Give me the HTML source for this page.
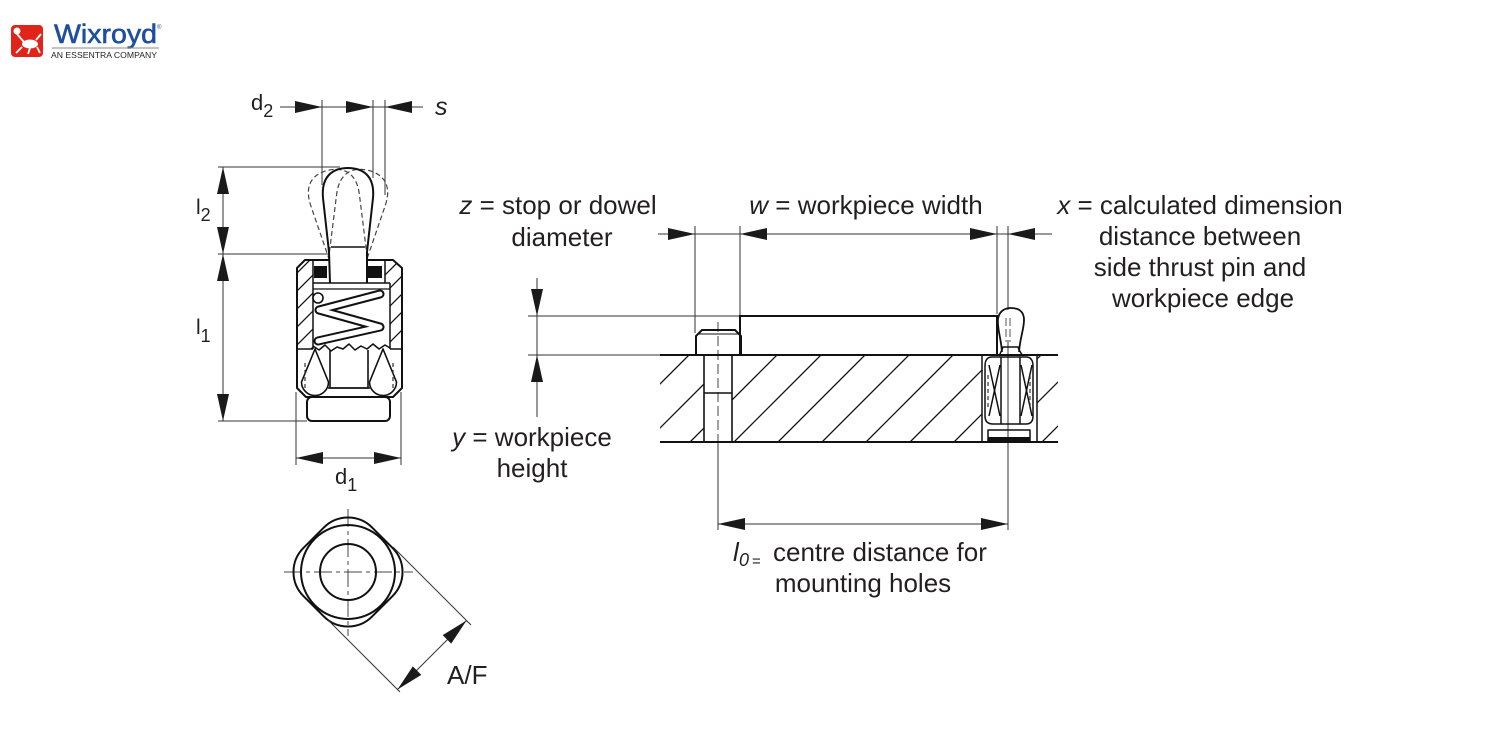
<!DOCTYPE html>
<html><head><meta charset="utf-8"><style>
html,body{margin:0;padding:0;background:#fff;}
svg{display:block;}
text{font-family:"Liberation Sans",Arial,sans-serif;fill:#231f20;}
</style></head><body>
<svg width="1500" height="750" viewBox="0 0 1500 750" xmlns="http://www.w3.org/2000/svg">
<defs>
<clipPath id="plateClip"><path clip-rule="evenodd" d="M660,356 H1058 V441 H660 Z M704,356 H732 V441 H704 Z M982,356 H1037 V441 H982 Z"/></clipPath>
<clipPath id="lwall"><polygon points="297,268 305,260 313,260 313,349 297,349"/></clipPath>
<clipPath id="rwall"><polygon points="385,260 393,260 402,268 402,349 390,349 390,283 385,283"/></clipPath>
</defs>
<rect width="1500" height="750" fill="#fff"/>

<!-- LOGO -->
<rect x="11" y="25" width="32" height="32" rx="4" fill="#e2231a"/>
<circle cx="17" cy="31" r="3.5" fill="#fff"/>
<ellipse cx="30" cy="44" rx="8" ry="4.5" fill="#fff"/>
<path d="M17,34 L24,42 M22,47 L16,53 M30,48 L28,54 M37,47 L40,53 M36,40 L41,34" stroke="#fff" stroke-width="1.8" fill="none"/>
<text x="54" y="43" font-size="27" textLength="103" lengthAdjust="spacingAndGlyphs" style="fill:#1d4f9e;stroke:#1d4f9e;stroke-width:0.6">Wixroyd</text>
<text x="157" y="29" font-size="6" style="fill:#1d4f9e">®</text>
<line x1="52" y1="48" x2="159" y2="48" stroke="#888" stroke-width="1"/>
<text x="51" y="58" font-size="8.5" textLength="106" lengthAdjust="spacingAndGlyphs">AN ESSENTRA COMPANY</text>

<!-- ========== LEFT SIDE VIEW ========== -->
<g stroke="#333" stroke-width="1" fill="none">
  <line x1="280" y1="107" x2="423" y2="107"/>
  <line x1="322" y1="100" x2="322" y2="185"/>
  <line x1="373" y1="100" x2="373" y2="178"/>
  <line x1="385" y1="100" x2="385" y2="195"/>
  <line x1="223" y1="167" x2="223" y2="421"/>
  <line x1="218" y1="167" x2="340" y2="167"/>
  <line x1="218" y1="254" x2="328" y2="254"/>
  <line x1="218" y1="421" x2="307" y2="421"/>
  <line x1="296" y1="392" x2="296" y2="465"/>
  <line x1="401" y1="392" x2="401" y2="465"/>
  <line x1="296" y1="458" x2="401" y2="458"/>
</g>
<g fill="#1a1a1a">
  <polygon points="322,107 295,101 295,113"/>
  <polygon points="373,107 346,101 346,113"/>
  <polygon points="385,107 412,101 412,113"/>
  <polygon points="223,167 217,194 229,194"/>
  <polygon points="223,254 217,227 229,227"/>
  <polygon points="223,254 217,281 229,281"/>
  <polygon points="223,421 217,394 229,394"/>
  <polygon points="296,458 323,452 323,464"/>
  <polygon points="401,458 374,452 374,464"/>
</g>

<!-- dashed tilted handles -->
<g stroke="#444" stroke-width="1.2" fill="none" stroke-dasharray="5 3">
  <path transform="rotate(-13 348 256)" d="M329,256 L323,198 C321,176 333,168 348,168 C363,168 375,176 373,198 L367,256"/>
  <path transform="rotate(13 348 256)" d="M329,256 L323,198 C321,176 333,168 348,168 C363,168 375,176 373,198 L367,256"/>
</g>
<g stroke="#111" stroke-width="2" fill="none">
  <path d="M330,283 L329,252 L323,198 C321,176 333,168 348,168 C363,168 375,176 373,198 L367,252 L367,283"/>
  <line x1="331" y1="247" x2="365" y2="247" stroke-width="1.5"/>
</g>

<!-- hatching walls -->
<g stroke="#111" stroke-width="1.3" clip-path="url(#lwall)">
  <line x1="250" y1="320" x2="350" y2="220"/>
  <line x1="250" y1="338" x2="350" y2="238"/>
  <line x1="250" y1="356" x2="350" y2="256"/>
  <line x1="250" y1="374" x2="350" y2="274"/>
  <line x1="250" y1="392" x2="350" y2="292"/>
  <line x1="250" y1="410" x2="350" y2="310"/>
  <line x1="250" y1="302" x2="350" y2="202"/>
</g>
<g stroke="#111" stroke-width="1.3" clip-path="url(#rwall)">
  <line x1="350" y1="310" x2="450" y2="210"/>
  <line x1="350" y1="328" x2="450" y2="228"/>
  <line x1="350" y1="346" x2="450" y2="246"/>
  <line x1="350" y1="364" x2="450" y2="264"/>
  <line x1="350" y1="382" x2="450" y2="282"/>
  <line x1="350" y1="400" x2="450" y2="300"/>
  <line x1="350" y1="418" x2="450" y2="318"/>
</g>

<!-- body -->
<g stroke="#111" stroke-width="2" fill="none" stroke-linejoin="round">
  <path d="M330,260 L305,260 L297,268 L297,388 L306,397 L393,397 L402,388 L402,268 L393,260 L367,260"/>
  <rect x="307" y="397" width="83" height="24" rx="5"/>
  <line x1="313" y1="260" x2="313" y2="349" stroke-width="1.5"/>
  <line x1="390" y1="283" x2="390" y2="349" stroke-width="1.5"/>
  <line x1="385" y1="260" x2="385" y2="283" stroke-width="1.5"/>
  <line x1="313" y1="283" x2="390" y2="283" stroke-width="1.5"/>
  <line x1="313" y1="289" x2="390" y2="289" stroke-width="1.2"/>
  <line x1="297" y1="349" x2="313" y2="349" stroke-width="1.5"/>
  <line x1="390" y1="349" x2="402" y2="349" stroke-width="1.5"/>
  <polyline stroke-width="1.5" points="313,346 319,350 325,345 331,351 337,347 343,349 349,344 355,350 361,346 367,349 373,344 379,349 385,345 390,348"/>
  <path stroke-width="1.6" d="M315,349 L301.5,382 A13.5,13.5 0 0 0 328.5,382 Z"/>
  <path stroke-width="1.6" d="M383,349 L369.5,382 A13.5,13.5 0 0 0 396.5,382 Z"/>
  <path stroke-width="1.6" d="M330,350 L330,388 L368,388 L368,350"/>
  <line x1="328" y1="388" x2="370" y2="388" stroke-width="1.5"/>
</g>
<rect x="314" y="266" width="13" height="12" fill="#111"/>
<rect x="368" y="266" width="14" height="12" fill="#111"/>
<g stroke="#333" stroke-width="1.2" stroke-dasharray="4 3">
  <line x1="305" y1="363" x2="305" y2="391"/>
  <line x1="393" y1="363" x2="393" y2="391"/>
</g>
<polyline points="380,294 319,310 380,327 318,341" fill="none" stroke="#111" stroke-width="9" stroke-linejoin="round" stroke-linecap="round"/>
<polyline points="380,294 319,310 380,327 318,341" fill="none" stroke="#fff" stroke-width="5" stroke-linejoin="round" stroke-linecap="round"/>
<circle cx="318" cy="298" r="5" fill="#fff" stroke="#111" stroke-width="1.6"/>

<!-- labels left -->
<text x="251" y="110" font-size="22">d<tspan font-size="18" dy="7">2</tspan></text>
<text x="435" y="115" font-size="25" font-style="italic">s</text>
<text x="196" y="214" font-size="21">l<tspan font-size="18" dy="7">2</tspan></text>
<text x="196" y="334" font-size="21">l<tspan font-size="18" dy="8">1</tspan></text>
<text x="335" y="484" font-size="22">d<tspan font-size="18" dy="7">1</tspan></text>

<!-- ========== BOTTOM VIEW ========== -->
<g stroke="#444" stroke-width="1" stroke-dasharray="18 4 4 4" fill="none">
  <line x1="284" y1="572" x2="413" y2="572"/>
  <line x1="348" y1="509" x2="348" y2="636"/>
</g>
<g stroke="#111" stroke-width="2" fill="none">
  <circle cx="348" cy="572" r="28"/>
  <circle cx="348" cy="572" r="47"/>
  <rect x="299.5" y="523.5" width="97" height="97" rx="34" transform="rotate(45 348 572)"/>
</g>
<g stroke="#333" stroke-width="1" fill="none">
  <line x1="393" y1="547" x2="471" y2="625"/>
  <line x1="328" y1="620" x2="400" y2="692"/>
  <line x1="397.5" y1="689.5" x2="466.5" y2="620.5"/>
</g>
<g fill="#1a1a1a">
  <polygon points="466.5,620.5 451.2,643.6 442.7,635.1"/>
  <polygon points="397.5,689.5 412.8,666.4 421.3,674.9"/>
</g>
<text x="447" y="684" font-size="26">A/F</text>

<!-- ========== RIGHT VIEW ========== -->
<g stroke="#111" stroke-width="1.3" clip-path="url(#plateClip)">
  <line x1="558" y1="442" x2="645" y2="355"/>
  <line x1="602" y1="442" x2="689" y2="355"/>
  <line x1="646" y1="442" x2="733" y2="355"/>
  <line x1="690" y1="442" x2="777" y2="355"/>
  <line x1="734" y1="442" x2="821" y2="355"/>
  <line x1="778" y1="442" x2="865" y2="355"/>
  <line x1="822" y1="442" x2="909" y2="355"/>
  <line x1="866" y1="442" x2="953" y2="355"/>
  <line x1="910" y1="442" x2="997" y2="355"/>
  <line x1="954" y1="442" x2="1041" y2="355"/>
  <line x1="998" y1="442" x2="1085" y2="355"/>
  <line x1="1042" y1="442" x2="1129" y2="355"/>
</g>
<g stroke="#333" stroke-width="1" fill="none">
  <line x1="658" y1="234" x2="1052" y2="234"/>
  <line x1="695" y1="226" x2="695" y2="333"/>
  <line x1="740" y1="226" x2="740" y2="317"/>
  <line x1="997" y1="226" x2="997" y2="314"/>
  <line x1="1008" y1="226" x2="1008" y2="310"/>
  <line x1="1008" y1="340" x2="1008" y2="530"/>
  <line x1="537" y1="278" x2="537" y2="417"/>
  <line x1="528" y1="316" x2="740" y2="316"/>
  <line x1="528" y1="355" x2="662" y2="355"/>
  <line x1="718" y1="442" x2="718" y2="530"/>
  <line x1="718" y1="524" x2="1008" y2="524"/>
</g>
<line x1="718" y1="322" x2="718" y2="442" stroke="#444" stroke-width="1" stroke-dasharray="10 4"/>
<g stroke="#555" stroke-width="1" stroke-dasharray="8 3">
  <line x1="1006" y1="318" x2="1006" y2="342"/>
  <line x1="1010" y1="318" x2="1010" y2="342"/>
</g>
<g fill="#1a1a1a">
  <polygon points="695,234 668,228 668,240"/>
  <polygon points="740,234 767,228 767,240"/>
  <polygon points="997,234 970,228 970,240"/>
  <polygon points="1008,234 1035,228 1035,240"/>
  <polygon points="537,316 531,289 543,289"/>
  <polygon points="537,355 531,382 543,382"/>
  <polygon points="718,524 745,518 745,530"/>
  <polygon points="1008,524 981,518 981,530"/>
</g>
<g stroke="#111" stroke-width="2" fill="none">
  <line x1="660" y1="355" x2="1058" y2="355"/>
  <line x1="660" y1="442" x2="1058" y2="442"/>
  <path d="M740,355 L740,316 L997,316 L997,355"/>
  <path d="M696,355 L696,336 L702,330 L735,330 L741,336 L741,355"/>
  <line x1="704" y1="355" x2="704" y2="442" stroke-width="1.6"/>
  <line x1="732" y1="355" x2="732" y2="442" stroke-width="1.6"/>
  <line x1="704" y1="393" x2="732" y2="393" stroke-width="1.5"/>
</g>
<line x1="699" y1="334" x2="738" y2="334" stroke="#111" stroke-width="1"/>
<g stroke="#111" stroke-width="1.5" fill="none" stroke-linejoin="round">
  <line x1="982" y1="355" x2="982" y2="442"/>
  <line x1="1037" y1="355" x2="1037" y2="442"/>
  <path d="M1002,352 C1001,338 997,328 998,319 C999,311 1005,308 1011,308 C1018,308 1024,311 1024,320 C1024,329 1020,338 1019,352" stroke-width="1.8"/>
  <path d="M999,356 C1001,352 1002,350 1003,347 L1018,347 C1019,350 1020,352 1023,356"/>
  <path d="M1001,357 L992,357 Q985,357 985,366 L985,416 Q985,424 993,424 L1001,424 Z"/>
  <path d="M1020,357 L1026,357 Q1033,357 1033,366 L1033,416 Q1033,424 1026,424 L1020,424 Z"/>
  <line x1="1001" y1="357" x2="1020" y2="357"/>
  <line x1="1001" y1="424" x2="1020" y2="424"/>
  <line x1="989" y1="365" x2="1000" y2="416"/>
  <line x1="1000" y1="365" x2="989" y2="416"/>
  <line x1="1021" y1="365" x2="1032" y2="416"/>
  <line x1="1032" y1="365" x2="1021" y2="416"/>
  <path d="M988,442 L988,430 L1030,430 L1030,442"/>
</g>
<rect x="988" y="437" width="42" height="5" fill="#111"/>
<g stroke="#333" stroke-width="1.2" stroke-dasharray="4 3">
  <line x1="988" y1="375" x2="988" y2="410"/>
  <line x1="1030" y1="375" x2="1030" y2="410"/>
</g>

<!-- text labels -->
<g font-size="26">
  <text x="558" y="214" text-anchor="middle"><tspan font-style="italic">z</tspan> = stop or dowel</text>
  <text x="562" y="246" text-anchor="middle">diameter</text>
  <text x="866" y="214" text-anchor="middle"><tspan font-style="italic">w</tspan> = workpiece width</text>
  <text x="1200" y="214" text-anchor="middle"><tspan font-style="italic">x</tspan> = calculated dimension</text>
  <text x="1200" y="245" text-anchor="middle">distance between</text>
  <text x="1200" y="276" text-anchor="middle">side thrust pin and</text>
  <text x="1203" y="307" text-anchor="middle">workpiece edge</text>
  <text x="532" y="446" text-anchor="middle"><tspan font-style="italic">y</tspan> = workpiece</text>
  <text x="532" y="477" text-anchor="middle">height</text>
  <text x="733" y="561" font-style="italic">l</text>
  <text x="739" y="566" font-size="18" font-style="italic">0</text>
  <text x="752" y="566" font-size="15">=</text>
  <text x="773" y="561">centre distance for</text>
  <text x="863" y="592" text-anchor="middle">mounting holes</text>
</g>
</svg>
</body></html>
